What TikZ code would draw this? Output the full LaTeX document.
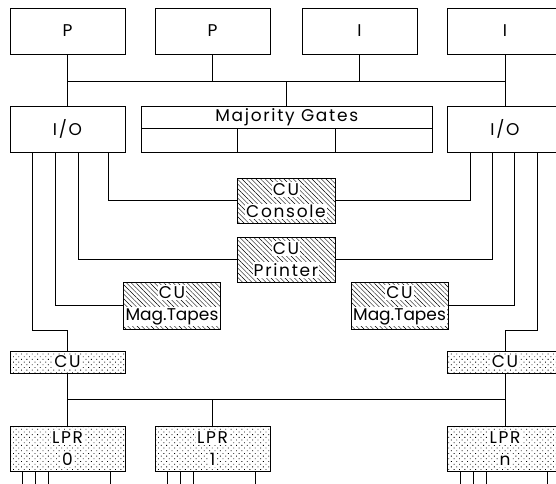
\documentclass[tikz,border=0pt]{standalone}
\usepackage{fontspec}
\setmainfont{Poppins}[LetterSpace=10]
\usetikzlibrary{patterns.meta}
\newcommand{\wbg}[1]{{\setlength{\fboxsep}{1.2pt}\colorbox{white}{#1}}}
\newcommand{\tight}{\addfontfeatures{LetterSpace=0}}
\tikzset{
  unit/.style={draw, rectangle, inner sep=0pt, minimum width=115pt, minimum height=46pt,
    align=center, font=\fontsize{17}{22}\selectfont},
  hatched/.style={unit, minimum width=98pt, minimum height=45pt,
    pattern={Lines[angle=-45, distance=3.3pt, line width=0.4pt]}},
  dotted box/.style={unit, pattern={Dots[angle=45, distance=3.8pt, radius=0.6pt]}},
}
\begin{document}
\begin{tikzpicture}[x=1pt, y=-1pt, line width=0.8pt]
    \useasboundingbox (0,0) rectangle (556,483);
    \clip (0,0) rectangle (556,483);

    % ==================== processors / I-units ====================
    \node[unit] (p1) at (67.5,31) {P};
    \node[unit] (p2) at (212.5,31) {P};
    \node[unit] (i1) at (359.5,31) {I};
    \node[unit] (i2) at (505,31) {I};

    % upper bus
    \coordinate (bus) at (0,81);
    \draw (p1 |- bus) -- (i2 |- bus);
    \draw (p2.south) -- (p2 |- bus);
    \draw (i1.south) -- (i1 |- bus);

    % ==================== I/O and majority gates ====================
    \node[unit] (io1) at (67.5,129) {I/O};
    \node[unit] (io2) at (505,129) {I/O};
    \draw (p1.south) -- (io1.north);
    \draw (i2.south) -- (io2.north);

    \node[unit, minimum width=290.5pt] (mg) at (286.75,129) {};
    \node[font=\fontsize{17}{22}\selectfont, inner sep=0pt] (mgt) at (286.75,117) {Majority Gates};
    \coordinate (mgmid) at (0,128);
    \draw (mg.west |- mgmid) -- (mg.east |- mgmid);
    \draw (237,128) -- (237,152);
    \draw (335,128) -- (335,152);
    \draw (mg.north) -- (mg |- bus);

    % ==================== hatched control units ====================
    \node[hatched] (con) at (286,200.5) {\wbg{CU}\\\wbg{Console}};
    \node[hatched] (prn) at (286,259.5) {\wbg{CU}\\\wbg{Printer}};
    \node[hatched, minimum width=97pt, minimum height=47pt] (mt1) at (172,305.5) {\wbg{CU}\\\wbg{\tight Mag.Tapes}};
    \node[hatched, minimum width=97pt, minimum height=47pt] (mt2) at (399.5,305.5) {\wbg{CU}\\\wbg{\tight Mag.Tapes}};

    % ==================== dotted CU and LPR ====================
    \node[dotted box, minimum height=22pt] (cu1) at (67.5,362) {\wbg{CU}};
    \node[dotted box, minimum height=22pt] (cu2) at (505,362) {\wbg{CU}};

    \node[dotted box, minimum height=45pt] (lpr0) at (67.5,448.5) {\wbg{LPR}\\\wbg{0}};
    \node[dotted box, minimum height=45pt] (lpr1) at (212.5,448.5) {\wbg{LPR}\\\wbg{1}};
    \node[dotted box, minimum height=45pt] (lprn) at (505,448.5) {\wbg{LPR}\\\wbg{n}};

    % lines out of the left I/O
    \draw (io1.south west) ++(98.5,0) |- (con.west);
    \draw (io1.south west) ++(69,0) |- (prn.west);
    \draw (io1.south west) ++(46,0) |- (mt1.west);
    \draw (io1.south west) ++(23,0) -- ++(0,178) -| (cu1.north);

    % lines out of the right I/O
    \draw (io2.south west) ++(23,0) |- (con.east);
    \draw (io2.south west) ++(45,0) |- (prn.east);
    \draw (io2.south west) ++(67,0) |- (mt2.east);
    \draw (io2.south west) ++(90,0) -- ++(0,178) -| (cu2.north);

    % lower bus
    \coordinate (lbus) at (0,399);
    \draw (cu1.south) -- (lpr0.north);
    \draw (cu2.south) -- (lprn.north);
    \draw (cu1 |- lbus) -- (cu2 |- lbus);
    \draw (lpr1.north) -- (lpr1 |- lbus);

    % stubs below the LPRs
    \foreach \lp in {lpr0, lpr1, lprn}
      \foreach \o in {13, 26, 39, 100.5}
        \draw (\lp.south west) ++(\o,0) -- ++(0,14);
\end{tikzpicture}
\end{document}
